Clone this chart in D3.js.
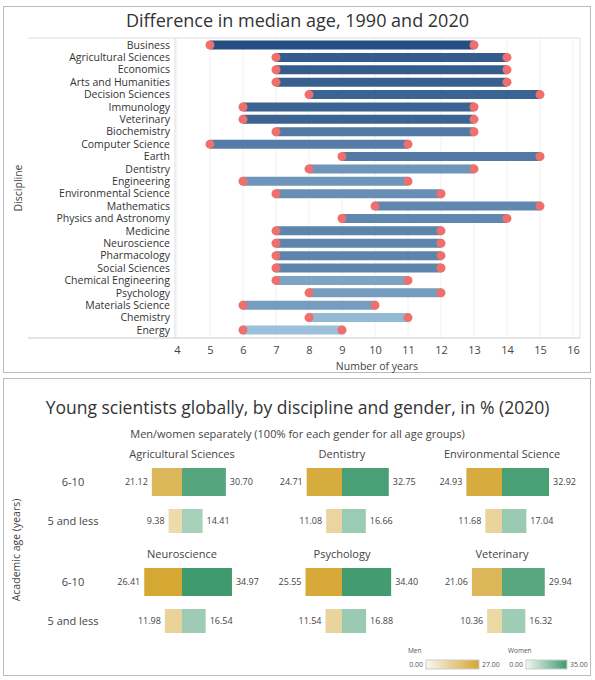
<!DOCTYPE html>
<html><head><meta charset="utf-8">
<script src="https://cdn.jsdelivr.net/npm/d3@7"></script>
<style>body{margin:0;background:#fff;font-family:"Open Sans",sans-serif;}</style>
</head><body><div id="wrapper"></div>
<script>
// Top chart data
const disciplines = ["Business","Agricultural Sciences","Economics","Arts and Humanities","Decision Sciences","Immunology","Veterinary","Biochemistry","Computer Science","Earth","Dentistry","Engineering","Environmental Science","Mathematics","Physics and Astronomy","Medicine","Neuroscience","Pharmacology","Social Sciences","Chemical Engineering","Psychology","Materials Science","Chemistry","Energy"];
const age1990 = [5,7,7,7,8,6,6,7,5,9,8,6,7,10,9,7,7,7,7,7,8,6,8,6];
const age2020 = [13,14,14,14,15,13,13,13,11,15,13,11,12,15,14,12,12,12,12,11,12,10,11,9];
const shade = [1,.9,.9,.88,.85,.85,.85,.7,.68,.7,.5,.5,.55,.6,.6,.62,.62,.62,.62,.4,.45,.45,.25,.2];
const xTicks = [4,5,6,7,8,9,10,11,12,13,14,15,16];

// Bottom chart data
const facets = ["Agricultural Sciences","Dentistry","Environmental Science","Neuroscience","Psychology","Veterinary"];
const ageGroups = ["6-10","5 and less"];
const men610 = [21.12,24.71,24.93,26.41,25.55,21.06];
const women610 = [30.70,32.75,32.92,34.97,34.40,29.94];
const men5 = [9.38,11.08,11.68,11.98,11.54,10.36];
const women5 = [14.41,16.66,17.04,16.54,16.88,16.32];

const W = 595, H = 680;
const svg = d3.select("#wrapper").append("svg").attr("width", W).attr("height", H);

// panel frames
svg.append("rect").attr("x",3.5).attr("y",6.5).attr("width",587).attr("height",366).attr("fill","none").attr("stroke","#bbb");
svg.append("rect").attr("x",3.5).attr("y",378.5).attr("width",587).attr("height",297).attr("fill","none").attr("stroke","#bbb");

// ---- Top chart
svg.append("text").attr("x",W/2).attr("y",27).attr("text-anchor","middle").attr("font-size",18).attr("fill","#333")
	.text("Difference in median age, 1990 and 2020");

const x = d3.scaleLinear().domain([4,16]).range([177,573]);
const y = d3.scalePoint().domain(disciplines).range([45,330]);
const barColor = d3.scaleLinear().domain([0,1]).range(["#b9dcf1","#254f82"]);

const topG = svg.append("g");
topG.selectAll(".grid").data(xTicks).join("line")
	.attr("x1",d=>x(d)).attr("x2",d=>x(d)).attr("y1",38).attr("y2",338)
	.attr("stroke","#f0f0f0");
topG.append("line").attr("x1",175).attr("x2",175).attr("y1",38).attr("y2",338).attr("stroke","#ddd");
topG.append("line").attr("x1",28).attr("x2",580).attr("y1",38).attr("y2",38).attr("stroke","#ddd");
topG.append("line").attr("x1",580).attr("x2",580).attr("y1",38).attr("y2",338).attr("stroke","#ddd");

disciplines.forEach((d,i) => {
	topG.append("line").attr("x1",x(age1990[i])).attr("x2",x(age2020[i])).attr("y1",y(d)).attr("y2",y(d))
		.attr("stroke",barColor(shade[i])).attr("stroke-width",9);
	[age1990[i],age2020[i]].forEach(v => topG.append("circle").attr("cx",x(v)).attr("cy",y(d)).attr("r",4.5).attr("fill","#ee6f6c"));
	topG.append("text").attr("x",170).attr("y",y(d)).attr("dy","0.35em").attr("text-anchor","end")
		.attr("font-size",10.5).attr("fill","#333").text(d);
});

const xAxis = topG.append("g").attr("transform","translate(0,338)")
	.call(d3.axisBottom(x).tickValues(xTicks).tickSize(0).tickPadding(8));
xAxis.select(".domain").attr("stroke","#ccc").attr("d","M28,0H580");
xAxis.selectAll("text").attr("font-size",11).attr("fill","#444").attr("font-family","Open Sans");
topG.append("text").attr("x",377).attr("y",370).attr("text-anchor","middle").attr("font-size",10.5).attr("fill","#444").text("Number of years");
topG.append("text").attr("transform","translate(22,188) rotate(-90)").attr("text-anchor","middle").attr("font-size",10.5).attr("fill","#444").text("Discipline");

// ---- Bottom chart
svg.append("text").attr("x",W/2).attr("y",414).attr("text-anchor","middle").attr("font-size",17.5).attr("fill","#333")
	.text("Young scientists globally, by discipline and gender, in % (2020)");
svg.append("text").attr("x",W/2).attr("y",438).attr("text-anchor","middle").attr("font-size",11).attr("fill","#444")
	.text("Men/women separately (100% for each gender for all age groups)");
svg.append("text").attr("transform","translate(20,550) rotate(-90)").attr("text-anchor","middle").attr("font-size",10.5).attr("fill","#444").text("Academic age (years)");

const colX = [182,342,502];
const facetTop = [448,548];
const w = d3.scaleLinear().domain([0,35]).range([0,50]);
const menColor = d3.scaleLinear().domain([0,27]).range(["#faf7ef","#d4a52f"]);
const womenColor = d3.scaleLinear().domain([0,35]).range(["#f1f7f4","#3f9a6d"]);

facets.forEach((f,i) => {
	const cx = colX[i%3], t = facetTop[Math.floor(i/3)];
	const g = svg.append("g");
	g.append("text").attr("x",cx).attr("y",t+10).attr("text-anchor","middle").attr("font-size",11).attr("fill","#444").text(f);
	const rows = [
		{m:men610[i], wv:women610[i], cy:t+34, h:28},
		{m:men5[i], wv:women5[i], cy:t+73, h:24}
	];
	rows.forEach(r => {
		g.append("rect").attr("x",cx-w(r.m)).attr("y",r.cy-r.h/2).attr("width",w(r.m)).attr("height",r.h).attr("fill",menColor(r.m));
		g.append("rect").attr("x",cx).attr("y",r.cy-r.h/2).attr("width",w(r.wv)).attr("height",r.h).attr("fill",womenColor(r.wv));
		g.append("text").attr("x",cx-w(r.m)-4).attr("y",r.cy).attr("dy","0.35em").attr("text-anchor","end").attr("font-size",9).attr("fill","#444").text(r.m.toFixed(2));
		g.append("text").attr("x",cx+w(r.wv)+4).attr("y",r.cy).attr("dy","0.35em").attr("font-size",9).attr("fill","#444").text(r.wv.toFixed(2));
	});
	if (i%3===0) {
		ageGroups.forEach((a,k) => svg.append("text").attr("x",73).attr("y",rows[k].cy).attr("dy","0.35em").attr("text-anchor","middle").attr("font-size",11).attr("fill","#444").text(a));
	}
});

// legends
const defs = svg.append("defs");
function legend(id, label, x0, x1, scale, maxV) {
	const lg = defs.append("linearGradient").attr("id",id);
	lg.append("stop").attr("offset","0%").attr("stop-color",scale(0));
	lg.append("stop").attr("offset","100%").attr("stop-color",scale(maxV));
	svg.append("text").attr("x",x0-18).attr("y",653).attr("font-size",6.5).attr("fill","#555").text(label);
	svg.append("rect").attr("x",x0).attr("y",660).attr("width",x1-x0).attr("height",9).attr("fill",`url(#${id})`).attr("stroke","#ccc");
	svg.append("text").attr("x",x0-3).attr("y",667).attr("text-anchor","end").attr("font-size",7).attr("fill","#555").text("0.00");
	svg.append("text").attr("x",x1+3).attr("y",667).attr("font-size",7).attr("fill","#555").text(maxV.toFixed(2));
}
legend("gm","Men",426,479,menColor,27);
legend("gw","Women",526,567,womenColor,35);
</script></body></html>
